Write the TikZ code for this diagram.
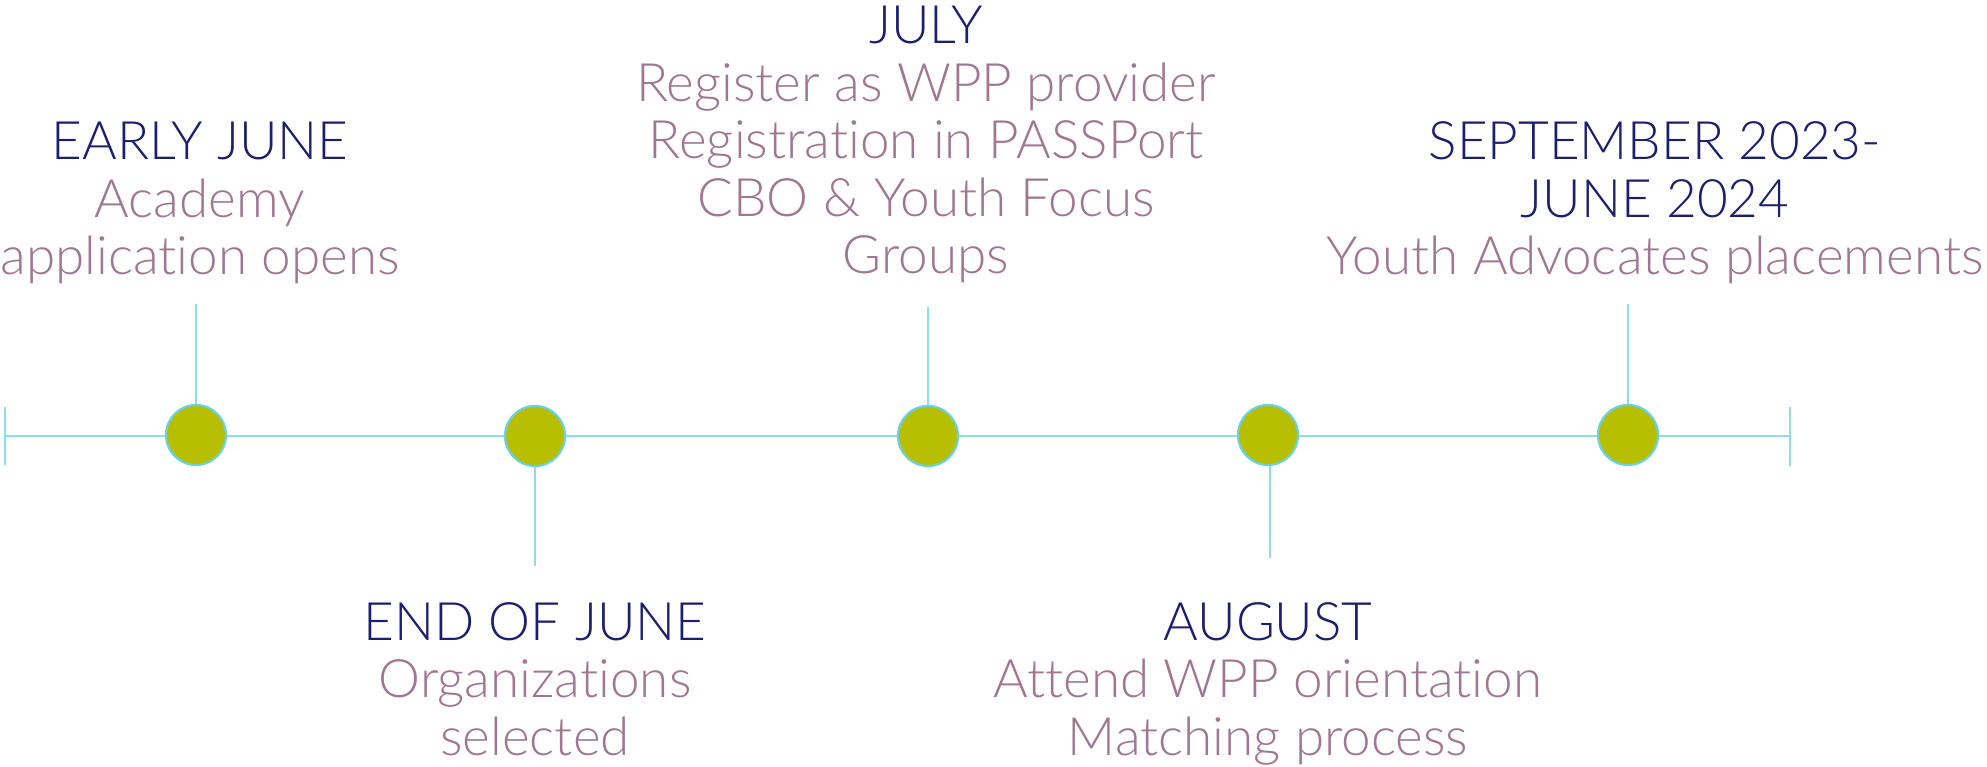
\documentclass[tikz,border=0pt]{standalone}
\usepackage{fontspec}
\IfFontExistsTF{Lato Light}{\setmainfont{Lato Light}[Ligatures=NoCommon]}{\setmainfont{Lato}[Ligatures=NoCommon]}
\definecolor{navy}{RGB}{27,31,110}
\definecolor{mauve}{RGB}{160,118,145}
\definecolor{olive}{RGB}{184,190,0}
\definecolor{ring}{RGB}{104,210,224}
\definecolor{tline}{RGB}{140,222,232}
\tikzset{
  dot/.style={circle,fill=olive,draw=ring,line width=2.2pt,minimum size=60pt,inner sep=0pt},
  tl/.style={draw=tline,line width=2pt},
  lbl/.style={align=center,anchor=base,inner sep=0pt,text=mauve,font=\fontsize{53}{57.5}\selectfont}
}
\begin{document}
\begin{tikzpicture}[x=1pt,y=-1pt]
\useasboundingbox (0,0) rectangle (1987,767);
% ticks and line
\coordinate (L) at (5,436);
\coordinate (R) at (1790,436);
\coordinate (Lt) at (5,407);
\coordinate (Lb) at (5,465);
\coordinate (Rt) at (1790,407);
\coordinate (Rb) at (1790,466);
\draw[tl] (Lt) -- (Lb);
\draw[tl] (Rt) -- (Rb);
\draw[tl] (L) -- (R);
% dots
\node[dot] (c1) at (196,435) {};
\node[dot] (c2) at (535,436) {};
\node[dot] (c3) at (928,436) {};
\node[dot] (c4) at (1268,435) {};
\node[dot] (c5) at (1628,435) {};
% stems
\coordinate (s1) at (196,304);
\coordinate (s2) at (535,566);
\coordinate (s3) at (928,307);
\coordinate (s4) at (1270,558);
\coordinate (s5) at (1628,304);
\draw[tl] (s1) -- (c1.north);
\draw[tl] (s2) -- (c2.south);
\draw[tl] (s3) -- (c3.north);
\draw[tl] (c4.south) ++(2,0) -- (s4);
\draw[tl] (s5) -- (c5.north);
% labels (anchored at the baseline of their last line)
\node[lbl] (t1) at (200,275) {\textcolor{navy}{EARLY JUNE}\\Academy\\application opens};
\node[lbl] (t2) at (535,755) {\textcolor{navy}{END OF JUNE}\\Organizations\\selected};
\node[lbl] (t3) at (926,274) {\textcolor{navy}{JULY}\\Register as WPP provider\\Registration in PASSPort\\CBO \& Youth Focus\\Groups};
\node[lbl] (t4) at (1268,755) {\textcolor{navy}{AUGUST}\\Attend WPP orientation\\Matching process};
\node[lbl] (t5) at (1655,275) {\textcolor{navy}{SEPTEMBER 2023-}\\\textcolor{navy}{JUNE 2024}\\Youth Advocates placements};
\end{tikzpicture}
\end{document}
